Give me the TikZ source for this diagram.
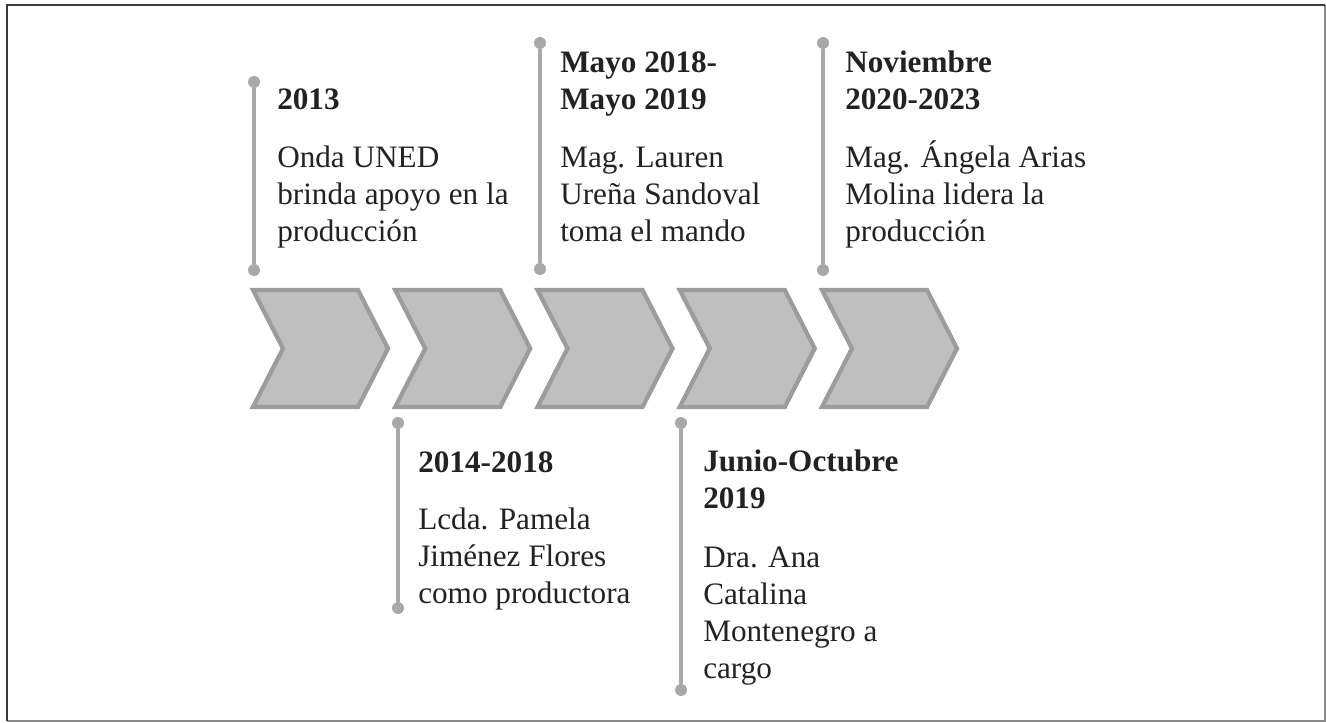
\documentclass[tikz,border=0pt]{standalone}
\usepackage{fontspec}
\setmainfont{Liberation Serif}
\usetikzlibrary{positioning}

\definecolor{stemgray}{HTML}{A8A8A8}
\definecolor{chevfill}{HTML}{BFBFBF}
\definecolor{chevedge}{HTML}{9C9C9C}
\definecolor{inkgray}{HTML}{222222}
\definecolor{framedark}{HTML}{3A3A3A}
\definecolor{framelight}{HTML}{8A8A8A}

\tikzset{
  dot/.style={circle,fill=stemgray,inner sep=0pt,minimum size=9pt},
  stem/.style={draw=stemgray,line width=3pt},
  chev/.style={fill=chevfill,draw=chevedge,line width=3.2pt,line join=miter},
  yearlbl/.style={anchor=base west,inner sep=0pt,align=left,text=inkgray,
    font=\bfseries\fontsize{23.4}{27.75}\selectfont},
  desclbl/.style={anchor=base west,inner sep=0pt,align=left,text=inkgray,
    font=\fontsize{23.4}{27.75}\selectfont}
}

\begin{document}
\begin{tikzpicture}[x=0.75pt,y=0.75pt]
  \useasboundingbox (0,0) rectangle (1326,-723);
  % frame
  \draw[framelight,line width=1.2pt] (1325,-5) -- (1325,-721) -- (7,-721);
  \draw[framedark,line width=2pt] (7,-721) -- (7,-5) -- (1325,-5);

  % chevrons
  \foreach \cx in {253,395.25,537.5,679.75,822}
    \draw[chev] (\cx,-290) -- ++(105,0) -- ++(30,-58.5) -- ++(-30,-58.5)
      -- ++(-105,0) -- ++(30,58.5) -- cycle;

  % stems above
  \node[dot] (top1) at (254,-82) {};
  \node[dot] (bot1) at (254,-270) {};
  \draw[stem] (top1) -- (bot1);
  \node[dot] (top3) at (540,-43) {};
  \node[dot] (bot3) at (540,-269) {};
  \draw[stem] (top3) -- (bot3);
  \node[dot] (top5) at (823,-43) {};
  \node[dot] (bot5) at (823,-270) {};
  \draw[stem] (top5) -- (bot5);

  % stems below
  \node[dot] (top2) at (398,-423) {};
  \node[dot] (bot2) at (398,-608) {};
  \draw[stem] (top2) -- (bot2);
  \node[dot] (top4) at (681,-423) {};
  \node[dot] (bot4) at (681,-690) {};
  \draw[stem] (top4) -- (bot4);

  % labels (placed at the baseline of their last line)
  \node[yearlbl] (year1) at (277,-110) {2013};
  \node[desclbl] (desc1) at (277,-242) {Onda UNED\\brinda apoyo en la\\producción};

  \node[yearlbl] (year2) at (418,-472) {2014-2018};
  \node[desclbl] (desc2) at (418,-603) {Lcda. Pamela\\Jiménez Flores\\como productora};

  \node[yearlbl] (year3) at (560,-110) {Mayo 2018-\\Mayo 2019};
  \node[desclbl] (desc3) at (560,-242) {Mag. Lauren\\Ureña Sandoval\\toma el mando};

  \node[yearlbl] (year4) at (703,-508) {Junio-Octubre\\2019};
  \node[desclbl] (desc4) at (703,-678) {Dra. Ana\\Catalina\\Montenegro a\\cargo};

  \node[yearlbl] (year5) at (845,-110) {Noviembre\\2020-2023};
  \node[desclbl] (desc5) at (845,-242) {Mag. Ángela Arias\\Molina lidera la\\producción};
\end{tikzpicture}
\end{document}
